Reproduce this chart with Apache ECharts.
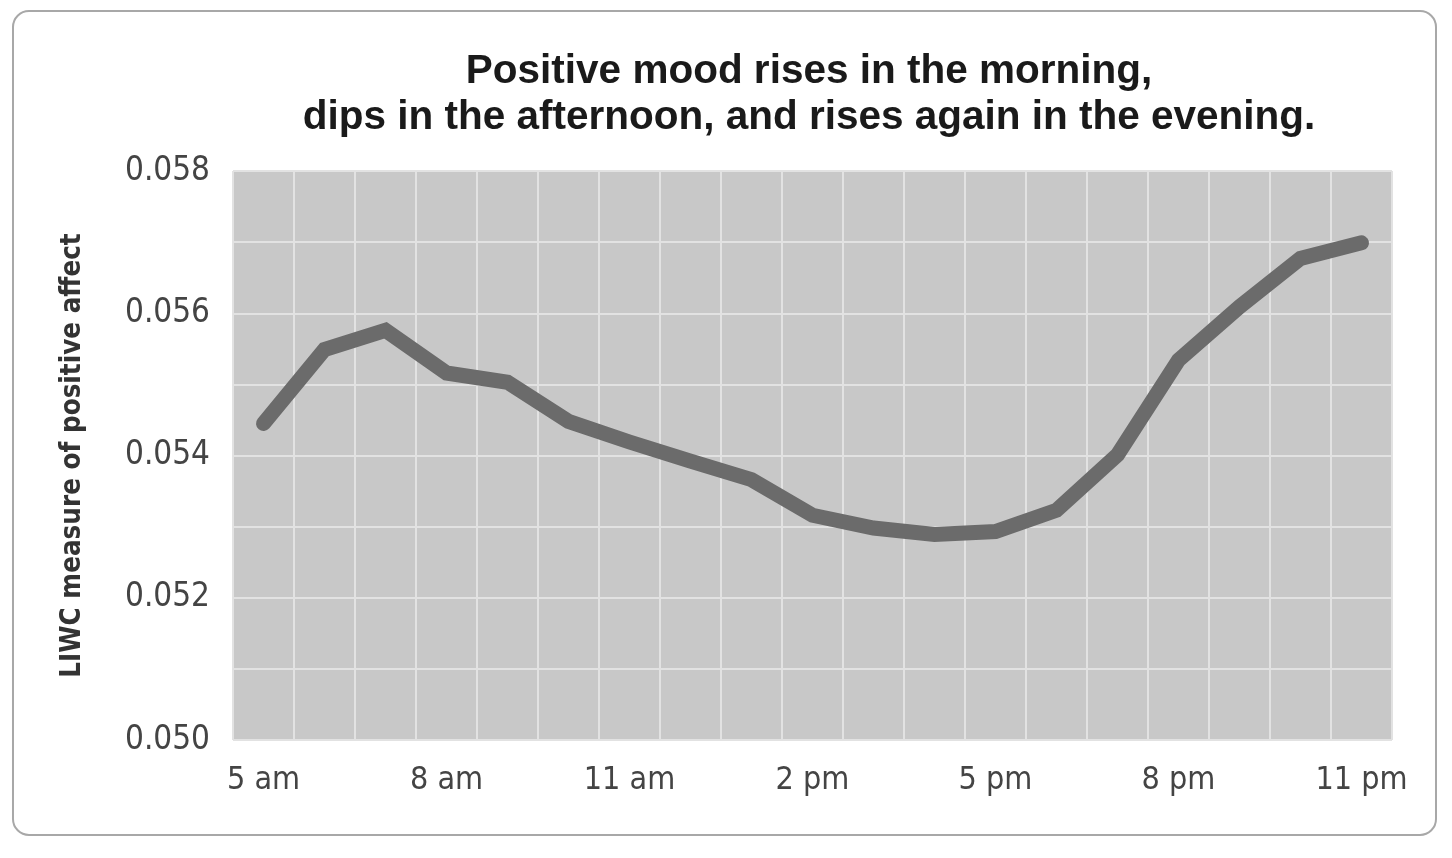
<!DOCTYPE html>
<html>
<head>
<meta charset="utf-8">
<script src="https://cdn.jsdelivr.net/npm/echarts@6/dist/echarts.min.js"></script>
<style>
html,body{margin:0;padding:0;background:#fff;}
#c{width:1452px;height:858px;}
</style>
</head>
<body>
<div id="c"></div>
<script>
const hours = ['5 am','6 am','7 am','8 am','9 am','10 am','11 am','12 pm','1 pm','2 pm','3 pm','4 pm','5 pm','6 pm','7 pm','8 pm','9 pm','10 pm','11 pm'];
const positiveAffect = [0.05445,0.05549,0.05576,0.05516,0.05503,0.05448,0.05419,0.05392,0.05366,0.05316,0.05298,0.05289,0.05293,0.05323,0.05401,0.05534,0.05609,0.05677,0.05699];
const titleLines = ['Positive mood rises in the morning,','dips in the afternoon, and rises again in the evening.'];
const yAxisTitle = 'LIWC measure of positive affect';

const narrow = '"DejaVu Sans Condensed","Liberation Sans Narrow",sans-serif';
const chart = echarts.init(document.getElementById('c'));
chart.setOption({
  backgroundColor:'#fff',
  animation:false,
  graphic:[{
    type:'rect',
    shape:{x:13,y:11,width:1423,height:824,r:16},
    style:{fill:'none',stroke:'#a8a8a8',lineWidth:2},
    z:-1
  }],
  title:{
    text:titleLines.join('\n'),
    left:804,
    textAlign:'center',
    top:44,
    textStyle:{fontFamily:'"Liberation Sans",Arial,sans-serif',fontWeight:'bold',fontSize:40.5,lineHeight:46,color:'#1a1a1a'}
  },
  grid:{left:233,right:60,top:171,bottom:118,show:true,backgroundColor:'#c8c8c8',borderWidth:0,containLabel:false},
  xAxis:{
    type:'category',
    data:hours,
    boundaryGap:true,
    axisLine:{show:false},
    axisTick:{show:false},
    splitLine:{show:true,interval:0,lineStyle:{color:'#e2e2e2',width:2}},
    axisLabel:{interval:2,margin:25,fontFamily:narrow,fontSize:32,color:'#444'}
  },
  yAxis:{
    type:'value',
    min:0.050,max:0.058,interval:0.001,
    name:yAxisTitle,
    nameLocation:'middle',
    nameGap:146,
    nameTextStyle:{fontFamily:narrow,fontWeight:'bold',fontSize:27.5,color:'#333'},
    axisLine:{show:false},
    axisTick:{show:false},
    splitLine:{show:true,lineStyle:{color:'#e2e2e2',width:2}},
    axisLabel:{
      margin:23,fontFamily:narrow,fontSize:33,color:'#444',padding:[7,0,0,0],
      formatter:function(v){return Math.round(v*1000)%2===0 ? v.toFixed(3) : '';}
    }
  },
  series:[{
    type:'line',
    data:positiveAffect,
    symbol:'none',
    lineStyle:{color:'#6b6b6b',width:15,cap:'round',join:'miter'}
  }]
});
</script>
</body>
</html>
